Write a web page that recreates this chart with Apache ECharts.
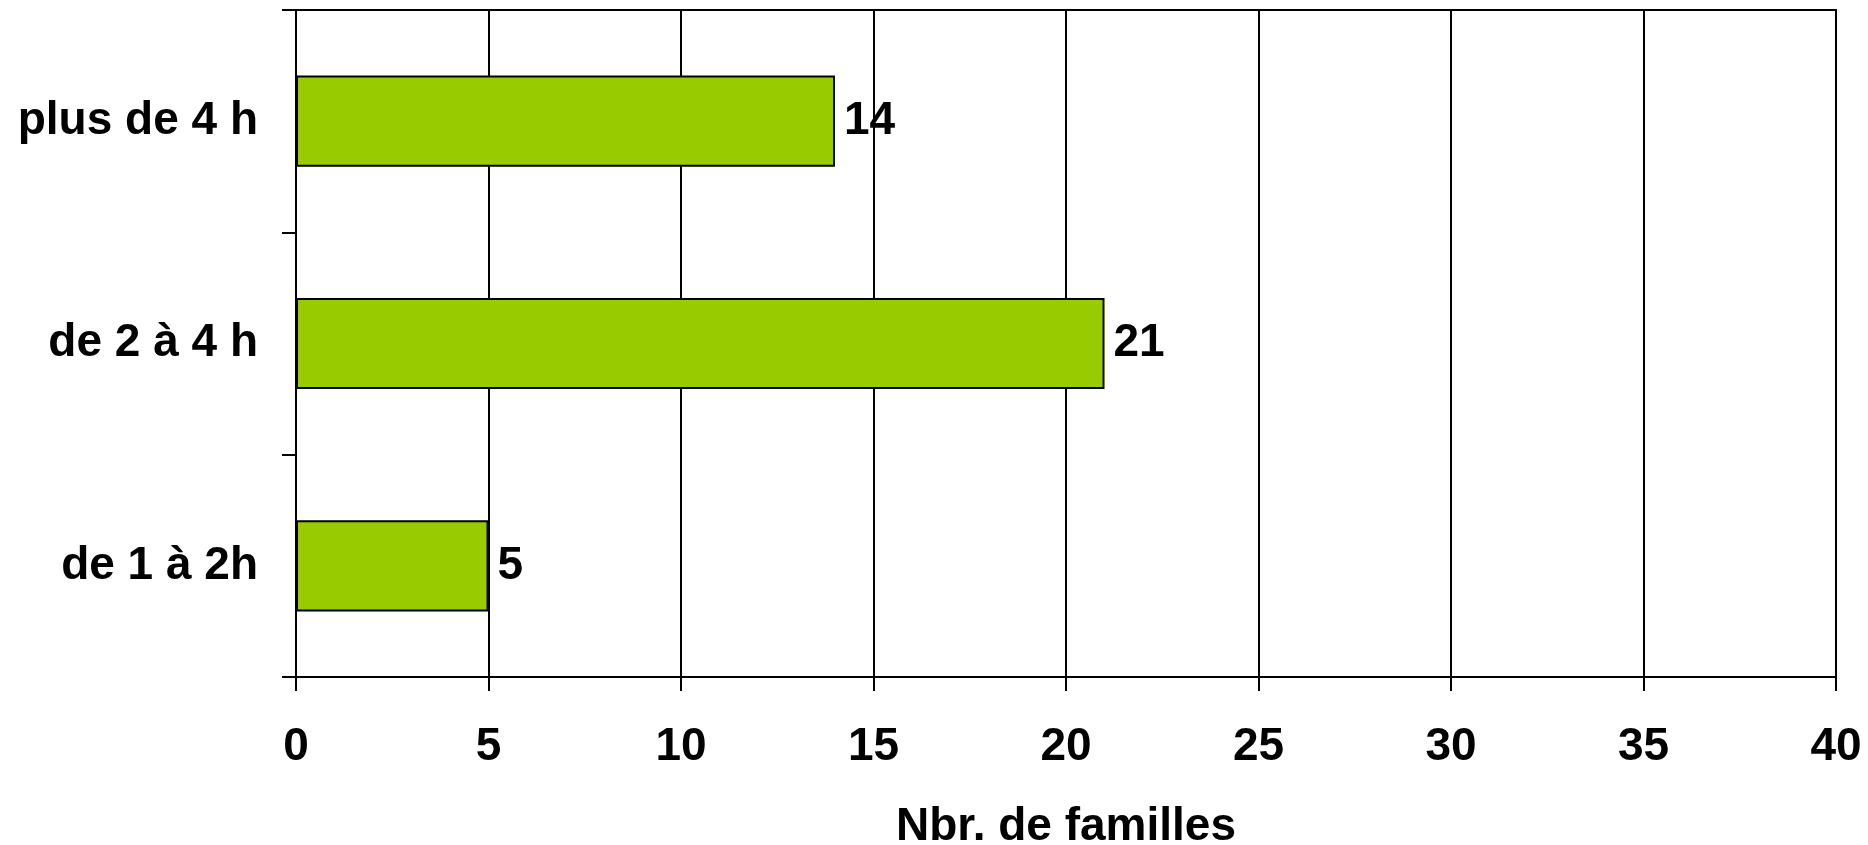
<!DOCTYPE html>
<html>
<head>
<meta charset="utf-8">
<script src="https://cdn.jsdelivr.net/npm/echarts@6/dist/echarts.min.js"></script>
<style>html,body{margin:0;padding:0;background:#fff;}#c{width:1868px;height:845px;}</style>
</head>
<body>
<div id="c"></div>
<script>
const categories = ['de 1 à 2h', 'de 2 à 4 h', 'plus de 4 h'];
const values = [5, 21, 14];
const xTicks = { min: 0, max: 40, interval: 5 };
const xTitle = 'Nbr. de familles';

const font = 'Liberation Sans, Arial, sans-serif';
const chart = echarts.init(document.getElementById('c'), null, { renderer: 'canvas' });
chart.setOption({
  animation: false,
  backgroundColor: '#fff',
  grid: { left: 296, right: 32, top: 10, bottom: 168, containLabel: false, outerBoundsMode: 'none', show: true, borderColor: '#000', borderWidth: 2, backgroundColor: 'transparent' },
  xAxis: {
    type: 'value', min: xTicks.min, max: xTicks.max, interval: xTicks.interval,
    name: xTitle, nameLocation: 'middle', nameGap: 127,
    nameTextStyle: { fontFamily: font, fontWeight: 'bold', fontSize: 46, color: '#000', verticalAlign: 'top' },
    axisLine: { show: true, lineStyle: { color: '#000', width: 2 } },
    axisTick: { show: true, length: 14, lineStyle: { color: '#000', width: 2 } },
    axisLabel: { fontFamily: font, fontWeight: 'bold', fontSize: 46, color: '#000', margin: 47 },
    splitLine: { show: true, lineStyle: { color: '#000', width: 2 } }
  },
  yAxis: {
    type: 'category', data: categories,
    axisLine: { show: true, lineStyle: { color: '#000', width: 2 } },
    axisTick: { show: true, length: 14, lineStyle: { color: '#000', width: 2 } },
    axisLabel: { fontFamily: font, fontWeight: 'bold', fontSize: 46, color: '#000', margin: 38 },
    splitLine: { show: false }
  },
  series: [{
    type: 'bar', data: values, barWidth: '41%',
    itemStyle: { color: '#99CC00', borderColor: '#000', borderWidth: 2 },
    label: { show: true, position: 'right', distance: 9, fontFamily: font, fontWeight: 'bold', fontSize: 46, color: '#000' }
  }]
});
</script>
</body>
</html>
